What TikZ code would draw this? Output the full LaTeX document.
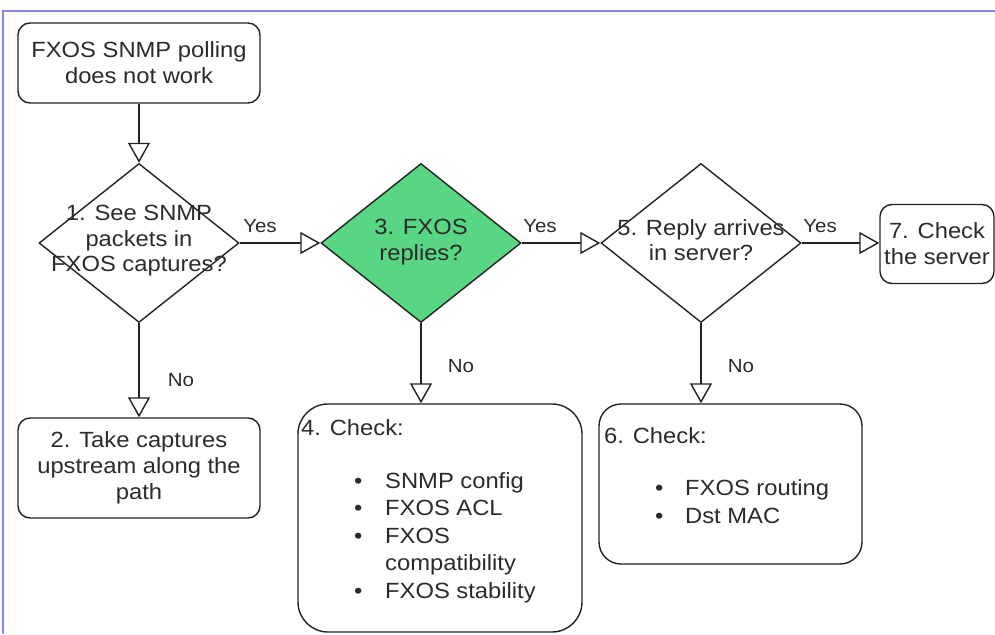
\documentclass[tikz,border=0pt]{standalone}
\usepackage{fontspec}
\setmainfont{Liberation Sans}[FakeStretch=1.08]
\usetikzlibrary{shapes.geometric,arrows.meta}
\definecolor{linec}{HTML}{222222}
\definecolor{txtc}{HTML}{2B2B2B}
\definecolor{greenfill}{HTML}{58D683}
\definecolor{framec}{HTML}{8585EE}
\begin{document}
\begin{tikzpicture}[x=1pt,y=-1pt,
  every node/.style={text=txtc, font=\fontsize{22}{26}\selectfont},
  rbox/.style={draw=linec, line width=1.4pt, fill=white, align=center, inner sep=0pt},
  dia/.style={draw=linec, line width=1.4pt, diamond, inner sep=0pt, minimum width=200pt, minimum height=159pt},
  dtext/.style={align=center, inner sep=0pt, font=\fontsize{22}{25.5}\selectfont},
  lbl/.style={inner sep=0pt, font=\fontsize{19}{22}\selectfont},
  ltxt/.style={anchor=base west, inner sep=0pt},
  arr/.style={draw=linec, line width=1.4pt, -{Triangle[open,length=20pt,width=22pt,line width=1.4pt]}}
]
\useasboundingbox (0,0) rectangle (995,634);
\draw[framec, line width=1.5pt] (3,634) -- (3,11) -- (995,11);

% start box
\node[rbox, rounded corners=12pt, minimum width=242pt, minimum height=80pt] (start) at (139,63) {FXOS SNMP polling\\does not work};

% diamonds
\node[dia] (d1) at (139,243) {};
\node[dtext] (t1) at (139,241) {1. See SNMP\\packets in\\FXOS captures?};
\node[dia, fill=greenfill] (d3) at (421,243) {};
\node[dtext] (t3) at (421,242) {3. FXOS\\replies?};
\node[dia] (d5) at (701,243) {};
\node[dtext] (t5) at (701,240) {5. Reply arrives\\in server?};

% box 7
\node[rbox, rounded corners=12pt, minimum width=114pt, minimum height=79pt] (b7) at (937,244) {7. Check\\the server};

% box 2
\node[rbox, rounded corners=12pt, minimum width=242pt, minimum height=100pt] (b2) at (139,468) {2. Take captures\\upstream along the\\path};

% box 4
\node[rbox, rounded corners=30pt, minimum width=284pt, minimum height=228pt] (b4) at (440,518) {};
\node[ltxt] (b4h) at (301,435) {4. Check:};
\node[ltxt] (b4b1) at (354,488) {\textbullet};
\node[ltxt] (b4l1) at (385,488) {SNMP config};
\node[ltxt] (b4b2) at (354,515.5) {\textbullet};
\node[ltxt] (b4l2) at (385,515.5) {FXOS ACL};
\node[ltxt] (b4b3) at (354,543) {\textbullet};
\node[ltxt] (b4l3) at (385,543) {FXOS};
\node[ltxt] (b4l4) at (385,570.5) {compatibility};
\node[ltxt] (b4b5) at (354,598) {\textbullet};
\node[ltxt] (b4l5) at (385,598) {FXOS stability};

% box 6
\node[rbox, rounded corners=22pt, minimum width=263pt, minimum height=160pt] (b6) at (730.5,484) {};
\node[ltxt] (b6h) at (604,443) {6. Check:};
\node[ltxt] (b6b1) at (655,495) {\textbullet};
\node[ltxt] (b6l1) at (685,495) {FXOS routing};
\node[ltxt] (b6b2) at (655,523) {\textbullet};
\node[ltxt] (b6l2) at (685,523) {Dst MAC};

% connectors
\draw[arr] (start) -- (d1);
\draw[arr] (d1.east) -- (d3.west);
\draw[arr] (d3.east) -- (d5.west);
\draw[arr] (d5.east) -- (d5.east -| b7.west);
\draw[arr] (d1.south) -- (b2.north);
\draw[arr] (d3.south) -- (d3.south |- b4.north);
\draw[arr] (d5.south) -- (d5.south |- b6.north);

% labels
\node[lbl] (y1) at (260,226) {Yes};
\node[lbl] (y3) at (540,226) {Yes};
\node[lbl] (y5) at (820,226) {Yes};
\node[lbl] (n1) at (181,380) {No};
\node[lbl] (n3) at (461,366) {No};
\node[lbl] (n5) at (741,366) {No};
\end{tikzpicture}
\end{document}
